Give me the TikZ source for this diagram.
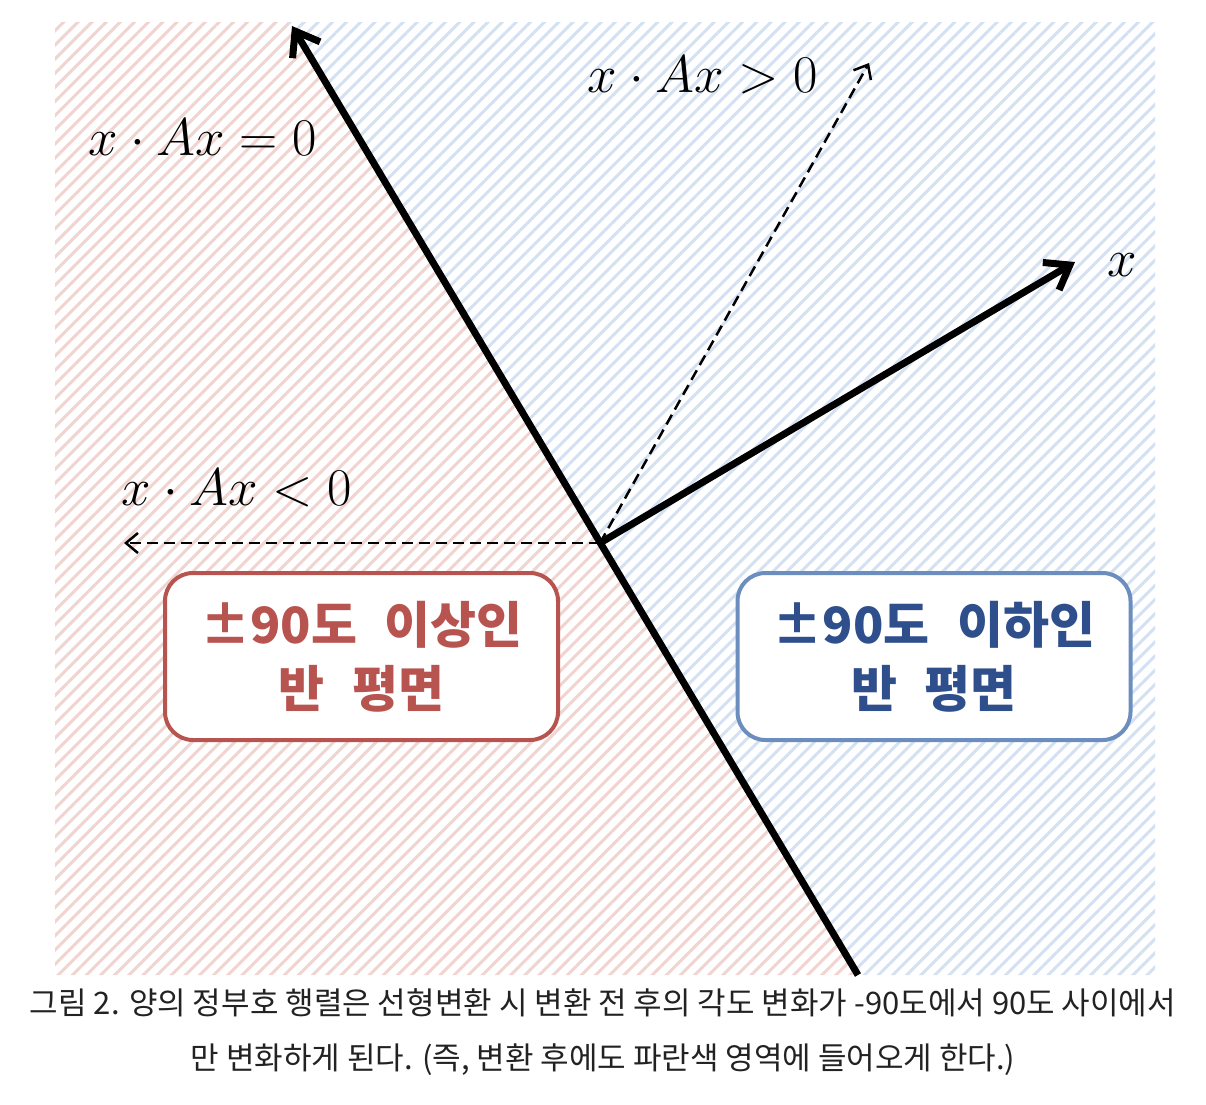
\RequirePackage{fix-cm}
\documentclass[tikz,border=0pt]{standalone}
\usepackage{fontspec}
\usetikzlibrary{arrows.meta,patterns.meta}
\newfontfamily\krfont{Noto Sans CJK KR}
\definecolor{stripered}{RGB}{240,212,208}
\definecolor{stripeblue}{RGB}{212,225,243}
\definecolor{boxred}{RGB}{184,84,80}
\definecolor{boxblue}{RGB}{108,142,191}
\definecolor{textblue}{RGB}{46,79,140}
\definecolor{captiongray}{RGB}{34,34,34}
\newcommand{\kgap}{\hspace{0.55em}}

\begin{document}
\begin{tikzpicture}[x=1pt,y=-1pt,
		halfred/.style={pattern={Lines[angle=45,distance=10pt,line width=3pt]},pattern color=stripered},
		halfblue/.style={pattern={Lines[angle=45,distance=10pt,line width=3pt]},pattern color=stripeblue},
		bigarrow/.style={line width=7pt,-{Straight Barb[length=22pt,width=32pt]}},
		dasharrow/.style={line width=2.5pt,dash pattern=on 11pt off 6pt,-{Straight Barb[length=12pt,width=20pt]}},
		halfbox/.style={draw,line width=4pt,rounded corners=28pt,fill=white,minimum width=393pt,minimum height=167pt,align=center,font=\krfont\bfseries\fontsize{50}{64}\selectfont},
		mathlabel/.style={font=\fontsize{53}{56}\selectfont},
		caption/.style={text=captiongray,font=\krfont\fontsize{31}{34}\selectfont}]
		%%%%% START %%%%%
		\useasboundingbox (0,0) rectangle (1206,1104);
		
		% hatched half planes
		\fill[halfred] (55,22) -- (288,22) -- (858,975) -- (55,975) -- cycle;
		\fill[halfblue] (288,22) -- (1155,22) -- (1155,975) -- (858,975) -- cycle;
		
		\coordinate (O) at (600,543);
		\coordinate (bottom) at (858,975);
		\coordinate (top) at (292,26);
		\coordinate (xtip) at (1075,262);
		\coordinate (postip) at (869,63);
		\coordinate (negtip) at (124,543);
		
		\draw[bigarrow] (bottom) -- (top);
		\draw[bigarrow] (O) -- (xtip);
		\draw[dasharrow] (O) -- (postip);
		\draw[dasharrow] (O) -- (negtip);
		
		\node[mathlabel] (zero) at (203,137) {$x\cdot Ax=0$};
		\node[mathlabel] (pos) at (703,75) {$x\cdot Ax>0$};
		\node[mathlabel] (neg) at (237,488) {$x\cdot Ax<0$};
		\node[mathlabel] (xlabel) at (1122,265) {$x$};
		
		\node[halfbox,draw=boxred,text=boxred] (redbox) at (361.5,656.5) {±90도\kgap 이상인\\반\kgap 평면};
		\node[halfbox,draw=boxblue,text=textblue] (bluebox) at (934,656.5) {±90도\kgap 이하인\\반\kgap 평면};
		
		% caption
		\node[caption] (cap1) at (603,1003) {그림 2. 양의 정부호 행렬은 선형변환 시 변환 전 후의 각도 변화가 -90도에서 90도 사이에서};
		\node[caption] (cap2) at (603,1060) {만 변화하게 된다. (즉, 변환 후에도 파란색 영역에 들어오게 한다.)};
		%%%%% END %%%%%
	\end{tikzpicture}
\end{document}
